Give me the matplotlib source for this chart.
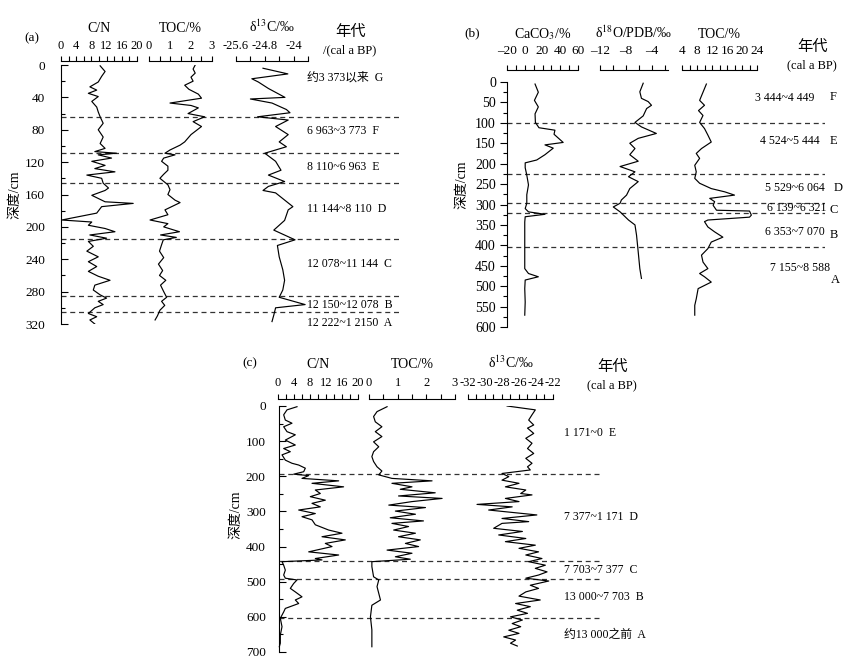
import matplotlib
matplotlib.use("Agg")
import matplotlib.pyplot as plt
from matplotlib.ticker import MultipleLocator

plt.rcParams["font.family"] = ["Liberation Serif", "Noto Sans CJK SC"]
plt.rcParams["mathtext.fontset"] = "stix"
plt.rcParams["axes.unicode_minus"] = False

# ---------------- panel (a) ----------------
a_cn_depth = [1, 8, 14, 21, 27, 31, 35, 39, 45, 52, 58, 64, 72, 80, 89, 97, 103, 107, 109, 111,
              115, 119, 124, 128, 132, 136, 140, 146, 152, 155, 161, 169, 171, 175, 183, 191.5,
              194, 198, 202, 206, 210, 214, 218, 224, 230, 237, 243, 249, 255, 261, 266, 272,
              278, 284, 288, 292, 296, 300, 307, 311, 315, 320]
a_cn = [10.3, 11.6, 10.7, 9.8, 7.6, 9.4, 7.2, 9.8, 8.1, 9.4, 9.8, 10.3, 11.1, 9.8, 11.1, 10.3,
        11.6, 8.9, 14.6, 9.8, 13.3, 8.1, 11.6, 8.9, 14.2, 6.8, 10.7, 11.1, 12.5, 11.6, 8.1, 11.6,
        19.0, 10.7, 9.4, 0.2, 8.1, 7.2, 11.6, 14.2, 7.6, 12.0, 7.2, 8.5, 6.8, 9.8, 7.2, 9.4, 7.2,
        9.8, 12.9, 8.9, 8.5, 10.3, 12.0, 9.8, 11.1, 8.9, 7.2, 9.4, 7.6, 8.9]

a_toc_depth = [0, 5, 10, 15, 20, 25, 30, 36, 41, 47, 50, 53, 60, 64, 70, 76, 82, 86, 95, 99,
               105, 109, 111, 115, 119, 125, 130, 135, 140, 148, 154, 160, 167, 170, 179, 185,
               191.5, 196, 200, 206, 210, 213, 216, 222, 230, 238, 246, 254, 260, 266, 272, 280,
               287, 292, 297, 303, 310, 315]
a_toc = [2.2, 2.1, 2.2, 2.0, 2.1, 1.7, 1.9, 2.35, 2.5, 1.0, 2.0, 2.35, 1.86, 2.65, 2.1, 2.5, 2.2,
         2.0, 1.7, 1.48, 1.0, 0.76, 1.24, 0.7, 0.6, 0.9, 0.9, 0.7, 0.52, 0.9, 1.0, 0.9, 1.24, 1.48,
         0.76, 0.9, 0.05, 0.9, 0.7, 1.45, 0.55, 1.3, 0.68, 0.6, 0.5, 0.7, 0.45, 0.65, 0.5, 0.8,
         0.55, 0.7, 0.84, 0.6, 0.75, 0.52, 0.4, 0.29]

a_c13_depth = [4, 11, 17, 21, 29, 40, 42, 47, 55, 59, 64, 68, 76, 86, 95, 101, 109, 119, 130,
               136, 144, 150, 155, 158, 175, 179, 192, 204, 216, 223, 237, 253, 266, 278, 287,
               296, 300, 309, 317]
a_c13 = [-24.85, -24.16, -25.16, -24.98, -24.7, -24.24, -25.2, -24.6, -24.2, -24.1, -25.0,
         -24.15, -24.5, -24.15, -24.4, -24.2, -24.8, -24.5, -24.35, -24.7, -24.25, -24.7,
         -24.85, -24.5, -24.02, -24.15, -24.25, -24.55, -23.96, -24.45, -24.4, -24.3, -24.25,
         -24.3, -24.4, -23.68, -24.5, -24.55, -24.6]

a_bounds = [64, 109, 146, 215, 285, 305]
a_zones = ["约3 373以来  G", "6 963~3 773  F", "8 110~6 963  E", "11 144~8 110  D",
           "12 078~11 144  C", "12 150~12 078  B", "12 222~1 2150  A"]
a_zone_depth = [15, 82, 126, 178, 246, 297, 319]

# ---------------- panel (b) ----------------
b_ca_depth = [5, 25, 45, 61, 78, 99, 112, 118, 128, 148, 154, 162, 178, 191, 198, 210, 228, 252,
              276, 297, 310, 318, 324, 330, 343, 375, 416, 457, 469, 477, 485, 506, 539, 571]
b_ca = [11.6, 15.3, 10.9, 15.3, 11.6, 12.0, 16.0, 34.0, 33.0, 43.3, 22.8, 32.1, 22.8, 13.5, 0.5,
        0.5, 2.3, 4.2, 2.3, 2.3, 0.5, 4.2, 22.8, 0.5, 0.0, 0.0, 0.0, 0.0, 4.2, 15.3, 0.5, 0.0,
        0.5, 0.0]

b_o18_depth = [3, 24, 40, 48, 57, 65, 83, 99, 110, 126, 138, 150, 163, 178, 194, 207, 220, 232,
               244, 261, 277, 289, 297, 306, 318, 338, 350, 375, 416, 457, 481]
b_o18 = [-5.33, -5.85, -5.6, -4.56, -4.05, -4.8, -5.33, -6.6, -5.6, -3.3, -6.1, -7.4, -6.6,
         -7.4, -6.1, -8.9, -6.6, -7.6, -6.1, -7.4, -7.9, -8.7, -8.9, -9.95, -8.9, -7.6, -6.6,
         -6.36, -6.1, -5.85, -5.6]

b_toc_depth = [5, 25, 45, 57, 70, 82, 99, 114, 130, 147, 163, 175, 187, 204, 220, 236, 248, 261,
               269, 277, 285, 293, 302, 314, 316, 326, 331, 338, 342, 355, 367, 380, 392, 408,
               424, 441, 457, 469, 477, 490, 506, 531, 547, 571]
b_toc = [10.5, 9.6, 8.7, 10.0, 8.4, 9.6, 8.7, 10.0, 10.9, 11.8, 9.2, 7.8, 8.7, 7.4, 7.8, 7.4,
         8.7, 11.8, 15.4, 18.0, 11.4, 12.7, 12.3, 13.2, 22.0, 22.5, 22.0, 10.9, 10.0, 10.9, 12.7,
         14.9, 11.8, 10.9, 9.2, 9.6, 10.9, 8.7, 10.0, 11.8, 8.3, 7.8, 7.4, 7.4]

b_bounds = [100, 226, 297, 322, 405]
b_zones = ["3 444~4 449", "4 524~5 444", "5 529~6 064", "6 139~6 321", "6 353~7 070", "7 155~8 588"]
b_zone_depth = [39, 145, 260, 309, 368, 456]
b_zone_x = [755, 760, 765, 767, 765, 770]
b_letters = ["F", "E", "D", "C", "B", "A"]
b_letter_depth = [36, 145, 260, 314, 375, 485]
b_letter_x = [833, 833, 838, 834, 834, 835]

# ---------------- panel (c) ----------------
c_cn_depth = [2, 11, 25, 40, 49, 59, 73, 82, 97, 111, 121, 130, 139, 154, 163, 168, 177, 187,
              194, 198, 206, 213, 220, 230, 239, 249, 258, 268, 277, 287, 296, 306, 315, 324,
              338, 353, 362, 372, 381, 391, 400, 415, 424, 434, 438, 443, 453, 467, 481, 490,
              495, 505, 519, 529, 543, 552, 562, 576, 586, 595, 604, 628, 652, 675, 685]
c_cn = [4.75, 2.25, 1.42, 1.83, 3.5, 1.42, 2.25, 4.33, 1.83, 4.33, 1.42, 3.08, 1.0, 1.83, 3.5,
        5.17, 6.83, 6.42, 3.92, 7.67, 6.0, 15.17, 8.5, 16.4, 9.33, 10.58, 8.08, 11.83, 8.5,
        10.58, 5.17, 9.33, 6.0, 8.5, 9.33, 12.67, 16.0, 11.0, 16.83, 11.83, 13.5, 7.67, 15.17,
        9.33, 11.0, 1.0, 1.42, 1.83, 1.42, 1.83, 4.75, 3.92, 3.08, 4.33, 6.0, 4.33, 5.17, 1.83,
        1.42, 1.0, 0.58, 1.0, 0.58, 0.58, 0.33]

c_toc_depth = [2, 16, 30, 45, 59, 73, 87, 102, 116, 130, 144, 158, 173, 185, 196, 206, 213, 220,
               230, 237, 247, 256, 263, 272, 282, 289, 299, 308, 318, 327, 334, 343, 353, 362,
               372, 381, 391, 400, 410, 419, 429, 436, 443, 457, 486, 495, 514, 533, 552, 567,
               600, 637, 685]
c_toc = [0.63, 0.28, 0.16, 0.22, 0.45, 0.22, 0.45, 0.16, 0.34, 0.16, 0.1, 0.16, 0.28, 0.45,
         0.34, 0.8, 2.2, 0.8, 1.5, 1.09, 2.31, 1.03, 2.55, 1.5, 0.69, 1.97, 0.92, 1.62, 0.74,
         1.9, 0.8, 1.38, 0.86, 1.62, 1.03, 1.79, 1.27, 1.73, 0.63, 1.5, 0.92, 1.44, 0.1, 0.1,
         0.16, 0.34, 0.28, 0.34, 0.4, 0.1, 0.05, 0.1, 0.1]

c_c13_depth = [0, 11, 25, 40, 54, 63, 78, 92, 106, 121, 135, 149, 163, 173, 182, 192, 201, 211,
               220, 230, 239, 249, 253, 263, 272, 280, 287, 296, 310, 320, 329, 334, 348, 357,
               367, 377, 386, 396, 405, 415, 424, 434, 443, 453, 462, 472, 481, 490, 498, 510,
               519, 529, 541, 552, 562, 571, 581, 590, 600, 609, 619, 628, 638, 647, 657, 666,
               675, 683]
c_c13 = [-27.4, -24.08, -24.47, -24.86, -24.27, -25.0, -24.27, -25.2, -24.47, -25.0, -24.27,
         -25.2, -24.47, -25.0, -24.67, -28.0, -27.2, -28.0, -26.0, -27.6, -25.2, -25.8, -24.47,
         -27.6, -26.0, -30.94, -26.8, -29.57, -23.9, -28.0, -24.86, -28.0, -28.98, -25.6,
         -28.39, -25.2, -27.6, -24.08, -26.0, -23.7, -25.2, -23.3, -24.86, -22.9, -24.08, -22.7,
         -23.7, -25.2, -22.5, -24.67, -23.7, -25.2, -26.0, -23.5, -26.4, -24.67, -26.2, -25.0,
         -27.0, -25.6, -26.8, -25.8, -27.2, -26.0, -27.8, -26.4, -27.0, -26.2]

c_bounds = [194, 442, 492, 603]
c_zones = ["1 171~0  E", "7 377~1 171  D", "7 703~7 377  C", "13 000~7 703  B", "约13 000之前  A"]
c_zone_depth = [77, 316, 467, 544, 652]

# ---------------------------------------------------------------
W, H = 850, 664
fig = plt.figure(figsize=(W / 100, H / 100), dpi=100)


def box(x0, x1, y0, y1):
    return [x0 / W, 1 - y1 / H, (x1 - x0) / W, (y1 - y0) / H]


def ptext(px, py, s, **kw):
    fig.text(px / W, 1 - py / H, s, **kw)


def depth_axes(x0, x1, y0, y1, dmax, major, minor, tdir, pad, fs):
    ax = fig.add_axes(box(x0, x1, y0, y1))
    ax.set_xlim(0, 1)
    ax.set_ylim(dmax, 0)
    for s in ["top", "right", "bottom"]:
        ax.spines[s].set_visible(False)
    ax.spines["left"].set_linewidth(0.8)
    ax.set_xticks([])
    ax.yaxis.set_major_locator(MultipleLocator(major))
    ax.yaxis.set_minor_locator(MultipleLocator(minor))
    ax.tick_params(axis="y", which="major", direction=tdir, length=5, width=0.8, pad=pad, labelsize=fs)
    ax.tick_params(axis="y", which="minor", direction=tdir, length=3, width=0.8)
    ax.patch.set_visible(False)
    return ax


def track(x0, x1, y0, y1, dmax, xlim, majors, labels, minors, title, gap, pad, lpad, fs, depth, vals):
    t = fig.add_axes(box(x0, x1, y0, y1))
    t.set_xlim(*xlim)
    t.set_ylim(dmax, 0)
    t.plot(vals, depth, color="black", lw=0.85)
    for s in ["left", "right", "bottom"]:
        t.spines[s].set_visible(False)
    t.spines["top"].set_position(("outward", gap * 0.72))
    t.spines["top"].set_linewidth(0.8)
    t.set_yticks([])
    t.xaxis.set_ticks_position("top")
    t.xaxis.set_label_position("top")
    t.set_xticks(majors)
    t.set_xticklabels(labels)
    t.set_xticks(minors, minor=True)
    t.tick_params(axis="x", which="both", direction="out", length=3.5, width=0.8, pad=pad, labelsize=fs)
    t.set_xlabel(title, fontsize=10, labelpad=lpad)
    t.patch.set_visible(False)
    return t


def dashes(ax, bounds):
    for d in bounds:
        ax.axhline(d, color="#333333", lw=0.9, ls=(0, (4, 3)))


# ---- (a)
ax_a = depth_axes(61, 402, 65, 324, 320, 40, 20, "in", 11.5, 9.5)
dashes(ax_a, a_bounds)
track(61, 137, 65, 324, 320, (0, 20), [0, 4, 8, 12, 16, 20], ["0", "4", "8", "12", "16", "20"],
      [2, 6, 10, 14, 18], "C/N", 4, 3, 6, 9, a_cn_depth, a_cn)
track(149, 212, 65, 324, 320, (0, 3), [0, 1, 2, 3], ["0", "1", "2", "3"],
      [0.5, 1.5, 2.5], "TOC/%", 4, 3, 6, 9, a_toc_depth, a_toc)
track(236, 308, 65, 324, 320, (-25.6, -23.6), [-25.6, -24.8, -24.0], ["-25.6", "-24.8", "-24"],
      [-25.2, -24.4, -23.6], r"δ$^{13}$C/‰", 4, 3, 6, 9, a_c13_depth, a_c13)
for s, d in zip(a_zones, a_zone_depth):
    ax_a.text((307 - 61) / (402 - 61), d, s, transform=ax_a.get_yaxis_transform(),
              ha="left", va="center", fontsize=8.5)
ptext(32, 38, "(a)", ha="center", va="center", fontsize=9.5)
ptext(350, 32, "年代", ha="center", va="center", fontsize=11)
ptext(350, 50, "/(cal a BP)", ha="center", va="center", fontsize=9)
ptext(15, 195, "深度/cm", ha="center", va="center", rotation=90, fontsize=10)

# ---- (b)
ax_b = depth_axes(507, 825, 82, 327, 600, 50, 25, "out", 3, 10)
dashes(ax_b, b_bounds)
track(507, 578, 82, 327, 600, (-20, 60), [-20, 0, 20, 40, 60], ["–20", "0", "20", "40", "60"],
      [-10, 10, 30, 50], r"CaCO$_3$/%", 12, 6, 5, 9.5, b_ca_depth, b_ca)
track(600, 668, 82, 327, 600, (-12, -1.5), [-12, -8, -4], ["–12", "–8", "–4"],
      [-10, -6, -2], r"δ$^{18}$O/PDB/‰", 12, 6, 5, 9.5, b_o18_depth, b_o18)
track(682, 757, 82, 327, 600, (4, 24), [4, 8, 12, 16, 20, 24], ["4", "8", "12", "16", "20", "24"],
      [6, 10, 14, 18, 22], "TOC/%", 12, 6, 5, 9.5, b_toc_depth, b_toc)
for s, d, px in zip(b_zones, b_zone_depth, b_zone_x):
    ax_b.text((px - 507) / (825 - 507), d, s, transform=ax_b.get_yaxis_transform(),
              ha="left", va="center", fontsize=8.5)
for s, d, px in zip(b_letters, b_letter_depth, b_letter_x):
    ax_b.text((px - 507) / (825 - 507), d, s, transform=ax_b.get_yaxis_transform(),
              ha="center", va="center", fontsize=9)
ptext(472, 33, "(b)", ha="center", va="center", fontsize=9.5)
ptext(812, 47, "年代", ha="center", va="center", fontsize=11)
ptext(812, 65, "(cal a BP)", ha="center", va="center", fontsize=9)
ptext(462, 185, "深度/cm", ha="center", va="center", rotation=90, fontsize=10)

# ---- (c)
ax_c = depth_axes(279, 600, 406, 652, 700, 100, 50, "in", 9.5, 9.5)
dashes(ax_c, c_bounds)
track(278, 358, 406, 652, 700, (0, 20), [0, 4, 8, 12, 16, 20], ["0", "4", "8", "12", "16", "20"],
      [2, 6, 10, 14, 18], "C/N", 7, 4, 6, 9, c_cn_depth, c_cn)
track(369, 455, 406, 652, 700, (0, 3), [0, 1, 2, 3], ["0", "1", "2", "3"],
      [0.5, 1.5, 2.5], "TOC/%", 7, 4, 6, 9, c_toc_depth, c_toc)
track(468, 553, 406, 652, 700, (-32, -22), [-32, -30, -28, -26, -24, -22],
      ["-32", "-30", "-28", "-26", "-24", "-22"], [-31, -29, -27, -25, -23],
      r"δ$^{13}$C/‰", 7, 4, 6, 9, c_c13_depth, c_c13)
for s, d in zip(c_zones, c_zone_depth):
    ax_c.text((564 - 279) / (600 - 279), d, s, transform=ax_c.get_yaxis_transform(),
              ha="left", va="center", fontsize=8.5)
ptext(250, 363, "(c)", ha="center", va="center", fontsize=9.5)
ptext(612, 367, "年代", ha="center", va="center", fontsize=11)
ptext(612, 385, "(cal a BP)", ha="center", va="center", fontsize=9)
ptext(236, 515, "深度/cm", ha="center", va="center", rotation=90, fontsize=10)

fig.savefig("out.png", dpi=100)
